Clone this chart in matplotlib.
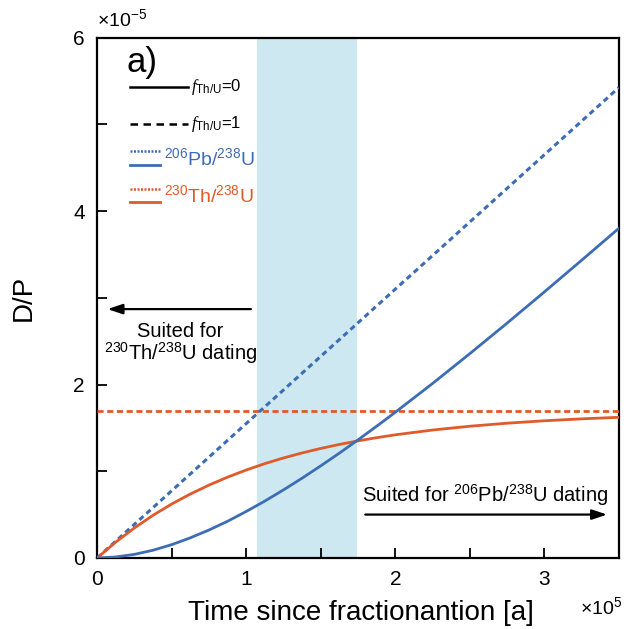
import matplotlib
matplotlib.use("Agg")
import matplotlib.pyplot as plt

plt.rcParams['font.family'] = ['Liberation Sans', 'DejaVu Sans']
plt.rcParams['mathtext.fontset'] = 'custom'
plt.rcParams['mathtext.rm'] = 'Liberation Sans'
plt.rcParams['mathtext.it'] = 'Liberation Serif:italic'
plt.rcParams['mathtext.default'] = 'regular'

# time in units of 1e5 a, D/P in units of 1e-5
t = [0, 0.125, 0.25, 0.375, 0.5, 0.625, 0.75, 0.875, 1.0, 1.125, 1.25, 1.375, 1.5,
     1.625, 1.75, 1.875, 2.0, 2.25, 2.5, 2.75, 3.0, 3.25, 3.5]
pb_f0 = [0, 0.011, 0.041, 0.089, 0.153, 0.232, 0.322, 0.423, 0.536, 0.656, 0.785, 0.920, 1.062,
         1.209, 1.362, 1.519, 1.680, 2.012, 2.356, 2.708, 3.068, 3.433, 3.802]
th_f0 = [0, 0.183, 0.346, 0.492, 0.622, 0.737, 0.840, 0.932, 1.014, 1.088, 1.153, 1.211, 1.263,
         1.309, 1.350, 1.387, 1.420, 1.475, 1.519, 1.554, 1.582, 1.604, 1.622]
t_lin = [0, 3.5]
pb_f1 = [0, 5.425]
th_f1 = [1.69, 1.69]
band = [1.07, 1.745]

BLUE = '#3D6DB5'
RED = '#E05A2B'
SHADE = '#CDE8F1'

fig = plt.figure(figsize=(6.27, 6.29), dpi=100)
ax = fig.add_axes([0.155, 0.113, 0.832, 0.827])

ax.axvspan(band[0], band[1], color=SHADE, lw=0, zorder=0)
ax.plot(t_lin, th_f1, color=RED, lw=2.0, ls=(0, (2.2, 1.3)), zorder=3)
ax.plot(t_lin, pb_f1, color=BLUE, lw=2.2, ls=(0, (1.8, 1.3)), zorder=3)
ax.plot(t, th_f0, color=RED, lw=2.0, zorder=3)
ax.plot(t, pb_f0, color=BLUE, lw=2.0, zorder=3)

ax.set_xlim(0, 3.5)
ax.set_ylim(0, 6)
ax.set_xticks([0, 0.5, 1, 1.5, 2, 2.5, 3])
ax.set_xticklabels(['0', '', '1', '', '2', '', '3'])
ax.set_yticks([0, 1, 2, 3, 4, 5, 6])
ax.set_yticklabels(['0', '', '2', '', '4', '', '6'])
ax.tick_params(direction='in', length=7, width=1.3, labelsize=15, pad=9)
for s in ax.spines.values():
    s.set_linewidth(1.6)

ax.set_xlabel('Time since fractionantion [a]', fontsize=20)
ax.set_ylabel('D/P', fontsize=20)
ax.xaxis.set_label_coords(0.505, -0.08)
ax.yaxis.set_label_coords(-0.115, 0.5)
fig.text(0.155, 0.952, r'$\times$10$^{-5}$', fontsize=14, ha='left', va='bottom')
fig.text(0.925, 0.018, r'$\times$10$^{5}$', fontsize=14, ha='left', va='bottom')

# legend (manual)
ax.text(0.2, 5.72, 'a)', fontsize=25, ha='left', va='center')
x0, x1, x1s = 0.22, 0.61, 0.42
ax.plot([x0, x1], [5.43, 5.43], color='black', lw=1.8)
ax.text(x1 + 0.02, 5.43, r'$\mathit{f}_{\mathrm{Th/U}}$=0', fontsize=12, ha='left', va='center')
ax.plot([x0, x1], [5.0, 5.0], color='black', lw=1.8, ls=(0, (3, 2.2)))
ax.text(x1 + 0.02, 5.0, r'$\mathit{f}_{\mathrm{Th/U}}$=1', fontsize=12, ha='left', va='center')
ax.plot([x0, x1s], [4.69, 4.69], color=BLUE, lw=1.8, ls=(0, (0.8, 0.6)))
ax.plot([x0, x1s], [4.53, 4.53], color=BLUE, lw=2.0)
ax.text(x1s + 0.03, 4.61, r'$^{206}$Pb/$^{238}$U', fontsize=14, color=BLUE, ha='left', va='center')
ax.plot([x0, x1s], [4.25, 4.25], color=RED, lw=1.8, ls=(0, (0.8, 0.6)))
ax.plot([x0, x1s], [4.11, 4.11], color=RED, lw=2.0)
ax.text(x1s + 0.03, 4.18, r'$^{230}$Th/$^{238}$U', fontsize=14, color=RED, ha='left', va='center')

# arrows
ax.annotate('', xy=(0.05, 2.87), xytext=(1.05, 2.87),
            arrowprops=dict(arrowstyle='-|>,head_length=0.9,head_width=0.3', color='black', lw=1.6))
ax.text(0.56, 2.61, 'Suited for', fontsize=14.5, ha='center', va='center')
ax.text(0.56, 2.36, r'$^{230}$Th/$^{238}$U dating', fontsize=14.5, ha='center', va='center')
ax.annotate('', xy=(3.44, 0.50), xytext=(1.78, 0.50),
            arrowprops=dict(arrowstyle='-|>,head_length=0.9,head_width=0.3', color='black', lw=1.6))
ax.text(2.6, 0.72, r'Suited for $^{206}$Pb/$^{238}$U dating', fontsize=14.5, ha='center', va='center')

fig.savefig('out.png', dpi=100)
